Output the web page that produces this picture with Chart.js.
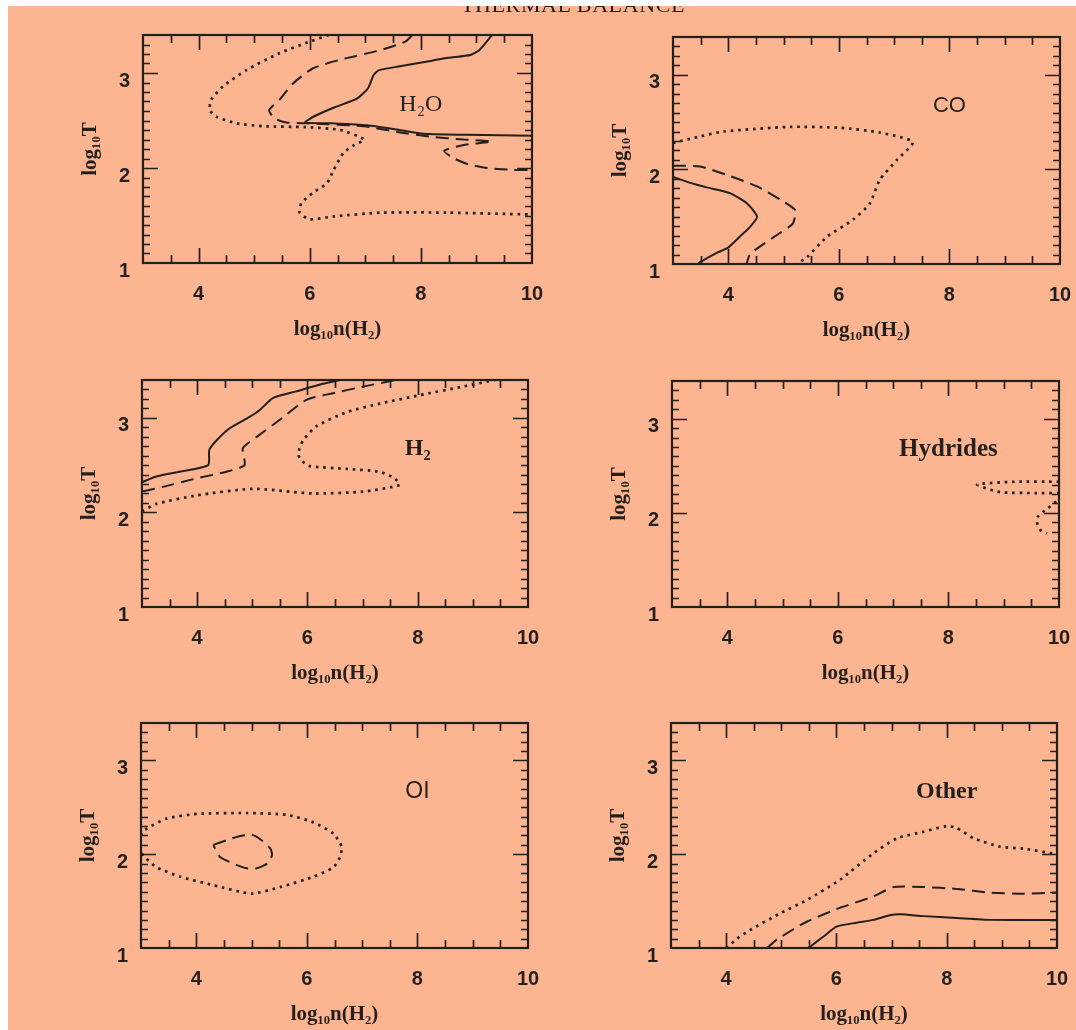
<!DOCTYPE html>
<html>
<head>
<meta charset="utf-8">
<title>Thermal balance</title>
<script src="https://cdn.jsdelivr.net/npm/chart.js@4.4.1/dist/chart.umd.min.js"></script>
<style>
    html, body { margin: 0; padding: 0; background: #ffffff; }
    #lembar { position: absolute; left: 8px; top: 6px; width: 1068px; height: 1024px; background: #fcb491; overflow: hidden; }
    #judul { position: absolute; left: 565px; top: -12px; transform: translateX(-50%); white-space: nowrap;
             font: 22px/22px "Liberation Serif", "DejaVu Serif", serif; color: #231f1c; letter-spacing: 0.6px; filter: blur(0.4px); }
    canvas.panel { position: absolute; filter: blur(0.45px); }
</style>
</head>
<body>
<div id="lembar"><div id="judul">THERMAL BALANCE</div></div>

<script>
// Label sumbu
const xTicks = [4, 6, 8, 10];
const yTicks = [1, 2, 3];

// Kontur pendinginan, titik [log10 n(H2), log10 T]
const h2oSolid  = [[9.28,3.40],[9.05,3.24],[8.89,3.19],[8.5,3.16],[8.2,3.13],[7.62,3.07],[7.25,3.03],[7.15,2.98],[7.05,2.84],[6.85,2.73],[6.45,2.64],[6.1,2.55],[5.92,2.48],[6.42,2.47],[7.03,2.45],[7.62,2.40],[8.04,2.36],[8.83,2.35],[10,2.34]];
const h2oDashed = [[7.85,3.40],[7.72,3.33],[7.27,3.24],[6.55,3.14],[6.06,3.05],[5.70,2.89],[5.46,2.72],[5.27,2.61],[5.37,2.52],[5.58,2.48],[5.94,2.47],[6.97,2.44],[7.57,2.38],[8.17,2.33],[8.77,2.30],[9.28,2.28],[8.75,2.24],[8.42,2.18],[8.6,2.10],[8.85,2.04],[9.2,2.0],[9.66,1.98],[10,1.98]];
const h2oDotted = [[6.34,3.40],[6.0,3.33],[5.46,3.21],[4.86,3.03],[4.44,2.86],[4.23,2.72],[4.20,2.61],[4.32,2.54],[4.68,2.47],[5.16,2.44],[5.94,2.43],[6.55,2.40],[6.98,2.30],[6.80,2.24],[6.61,2.16],[6.43,1.98],[6.31,1.84],[6.06,1.74],[5.85,1.63],[5.82,1.53],[6.0,1.46],[6.43,1.49],[7.27,1.53],[8.47,1.53],[10,1.51]];

const coSolid  = [[3.0,1.92],[3.3,1.86],[3.61,1.81],[4.03,1.75],[4.34,1.64],[4.52,1.50],[4.39,1.39],[4.21,1.29],[3.99,1.17],[3.80,1.12],[3.49,1.02],[3.45,1.0]];
const coDashed = [[3.0,2.04],[3.49,2.03],[4.03,1.93],[4.52,1.82],[4.94,1.68],[5.21,1.57],[5.17,1.43],[4.94,1.33],[4.61,1.20],[4.39,1.10],[4.33,1.0]];
const coDotted = [[3.0,2.28],[3.5,2.35],[3.90,2.40],[5.12,2.45],[6.02,2.44],[6.74,2.39],[7.34,2.29],[7.05,2.10],[6.74,1.89],[6.56,1.64],[6.26,1.47],[5.79,1.29],[5.42,1.07],[5.24,1.0]];

const h2Solid  = [[3,2.32],[3.26,2.38],[3.68,2.43],[4.20,2.50],[4.22,2.66],[4.35,2.76],[4.59,2.89],[4.95,3.01],[5.13,3.08],[5.38,3.21],[5.80,3.28],[6.28,3.36],[6.59,3.40]];
const h2Dashed = [[3,2.22],[3.38,2.27],[3.99,2.36],[4.53,2.43],[4.86,2.50],[4.83,2.68],[5.13,2.82],[5.50,2.98],[5.98,3.19],[6.46,3.26],[7.01,3.33],[7.6,3.40]];
const h2Dotted = [[3,2.01],[3.26,2.09],[3.99,2.18],[5.01,2.25],[6.10,2.20],[7.01,2.22],[7.67,2.29],[7.58,2.36],[7.31,2.43],[6.71,2.46],[6.04,2.49],[5.89,2.55],[5.83,2.62],[5.92,2.76],[6.16,2.91],[6.71,3.06],[7.31,3.15],[8.04,3.24],[8.82,3.33],[9.4,3.40]];

const hydDotted  = [[10,2.33],[9.2,2.33],[8.52,2.30],[8.93,2.22],[9.6,2.21],[10,2.21]];
const hydDotted2 = [[9.95,2.12],[9.78,2.04],[9.62,1.96],[9.60,1.90],[9.66,1.82],[9.78,1.78]];

const oiDotted = [[3.0,2.2],[3.07,2.26],[3.46,2.38],[4.01,2.43],[4.91,2.44],[5.64,2.42],[6.12,2.34],[6.48,2.22],[6.63,2.08],[6.60,1.97],[6.48,1.86],[6.12,1.76],[5.52,1.65],[5.0,1.58],[4.31,1.67],[3.71,1.76],[3.28,1.86],[3.07,1.97],[3.0,2.02]];
const oiDashed = [[4.31,2.10],[4.55,2.15],[4.76,2.19],[5.0,2.21],[5.18,2.15],[5.34,2.06],[5.37,1.99],[5.28,1.90],[5.09,1.85],[4.91,1.85],[4.67,1.90],[4.43,1.97],[4.34,2.06],[4.31,2.10]];

const othDotted = [[4.0,1.0],[4.2,1.1],[4.43,1.19],[4.98,1.37],[5.46,1.51],[6.07,1.73],[6.67,2.01],[7.10,2.17],[7.58,2.24],[8.0,2.30],[8.18,2.28],[8.49,2.17],[8.97,2.08],[9.39,2.06],[10,2.0]];
const othDashed = [[4.74,1.0],[4.92,1.09],[5.46,1.28],[6.07,1.43],[6.67,1.55],[7.04,1.65],[7.58,1.65],[8.18,1.63],[8.79,1.59],[9.39,1.58],[10,1.59]];
const othSolid  = [[5.49,1.0],[5.76,1.12],[6.01,1.23],[6.37,1.27],[6.67,1.30],[6.97,1.35],[7.16,1.36],[7.58,1.34],[8.18,1.32],[8.79,1.30],[10,1.30]];

const TINTA = '#231f1c';
const SERIF = '"Liberation Serif", "DejaVu Serif", serif';
const SANS = '"Liberation Sans", Arial, sans-serif';

const gayaGaris = {
    solid:  { borderDash: [], borderWidth: 2 },
    dashed: { borderDash: [13, 7], borderWidth: 2 },
    dotted: { borderDash: [2.6, 4.8], borderWidth: 2.7 }
};

// posisi kotak plot di halaman: [kiri, atas, lebar, tinggi]
const daftarPanel = [
    { box: [143, 35, 389, 228], label: 'H₂O', font: `24px ${SERIF}`,
      kurva: [[h2oSolid, 'solid'], [h2oDashed, 'dashed'], [h2oDotted, 'dotted']] },
    { box: [673, 37, 387, 227], label: 'CO', font: `22px ${SANS}`,
      kurva: [[coSolid, 'solid'], [coDashed, 'dashed'], [coDotted, 'dotted']] },
    { box: [142, 380, 386, 227], label: 'H₂', font: `bold 24px ${SERIF}`,
      kurva: [[h2Solid, 'solid'], [h2Dashed, 'dashed'], [h2Dotted, 'dotted']] },
    { box: [672, 381, 387, 226], label: 'Hydrides', font: `bold 25px ${SERIF}`,
      kurva: [[hydDotted, 'dotted'], [hydDotted2, 'dotted']] },
    { box: [141, 723, 387, 225], label: 'OI', font: `23px ${SANS}`,
      kurva: [[oiDotted, 'dotted'], [oiDashed, 'dashed']] },
    { box: [671, 723, 386, 225], label: 'Other', font: `bold 24px ${SERIF}`,
      kurva: [[othDotted, 'dotted'], [othDashed, 'dashed'], [othSolid, 'solid']] }
];

const SUMBU_Y = 80, SUMBU_X = 80, PAD_ATAS = 10, PAD_KANAN = 22;

// Bingkai kotak dengan tick ke arah dalam di keempat sisi
const bingkai = {
    id: 'bingkai',
    afterDatasetsDraw(chart) {
        const { ctx, chartArea: a, scales: { x, y } } = chart;
        ctx.save();
        ctx.strokeStyle = TINTA;
        ctx.lineWidth = 2.2;
        ctx.strokeRect(a.left, a.top, a.right - a.left, a.bottom - a.top);
        ctx.lineWidth = 1.7;
        ctx.beginPath();
        for (let i = 7; i < 20; i++) {
            const px = Math.round(x.getPixelForValue(i / 2)) + 0.5;
            const len = i % 4 === 0 ? 15 : 8;
            ctx.moveTo(px, a.bottom); ctx.lineTo(px, a.bottom - len);
            ctx.moveTo(px, a.top); ctx.lineTo(px, a.top + len);
        }
        for (let i = 11; i < 34; i++) {
            const py = Math.round(y.getPixelForValue(i / 10)) + 0.5;
            const len = i % 10 === 0 ? 15 : 7;
            ctx.moveTo(a.left, py); ctx.lineTo(a.left + len, py);
            ctx.moveTo(a.right, py); ctx.lineTo(a.right - len, py);
        }
        ctx.stroke();
        ctx.restore();
    }
};

// Nama pendingin di pojok kanan atas tiap panel
const labelPanel = {
    id: 'labelPanel',
    afterDraw(chart, args, opts) {
        const { ctx, scales: { x, y } } = chart;
        ctx.save();
        ctx.fillStyle = TINTA;
        ctx.font = opts.font;
        ctx.textAlign = 'center';
        ctx.textBaseline = 'middle';
        ctx.fillText(opts.text, x.getPixelForValue(8), y.getPixelForValue(2.67));
        ctx.restore();
    }
};

// ukuran sumbu dibuat tetap supaya kotak plot tidak bergeser
const kunciUkuran = (s, tebal) => {
    if (s.isHorizontal()) s.height = tebal; else s.width = tebal;
    s.paddingTop = s.paddingBottom = s.paddingLeft = s.paddingRight = 0;
};

daftarPanel.forEach(p => {
    const [L, T, W, H] = p.box;
    const canvas = document.createElement('canvas');
    canvas.className = 'panel';
    canvas.width = W + SUMBU_Y + PAD_KANAN;
    canvas.height = H + SUMBU_X + PAD_ATAS;
    canvas.style.left = (L - SUMBU_Y) + 'px';
    canvas.style.top = (T - PAD_ATAS) + 'px';
    document.body.appendChild(canvas);

    const datasets = p.kurva.map(([titik, gaya]) => ({
        data: titik.map(([x, y]) => ({ x, y })),
        showLine: true,
        pointRadius: 0,
        borderColor: TINTA,
        backgroundColor: TINTA,
        tension: 0.2,
        fill: false,
        ...gayaGaris[gaya]
    }));

    new Chart(canvas, {
        type: 'scatter',
        data: { datasets },
        options: {
            responsive: false,
            animation: false,
            devicePixelRatio: 1,
            layout: { padding: { top: PAD_ATAS, right: PAD_KANAN, left: 0, bottom: 0 } },
            plugins: {
                legend: { display: false },
                tooltip: { enabled: false },
                labelPanel: { text: p.label, font: p.font }
            },
            scales: {
                x: {
                    type: 'linear', min: 3, max: 10,
                    grid: { display: false, drawTicks: false },
                    border: { display: false },
                    afterBuildTicks: s => { s.ticks = xTicks.map(v => ({ value: v })); },
                    afterFit: s => kunciUkuran(s, SUMBU_X),
                    ticks: { padding: 19, color: TINTA, autoSkip: false, maxRotation: 0,
                             font: { family: SANS, size: 20, weight: 'bold' } },
                    title: { display: true, text: 'log₁₀n(H₂)', color: TINTA,
                             font: { family: SERIF, size: 21, weight: 'bold' }, padding: { top: 0, bottom: 1 } }
                },
                y: {
                    type: 'linear', min: 1, max: 3.4,
                    grid: { display: false, drawTicks: false },
                    border: { display: false },
                    afterBuildTicks: s => { s.ticks = yTicks.map(v => ({ value: v })); },
                    afterFit: s => kunciUkuran(s, SUMBU_Y),
                    ticks: { padding: 13, labelOffset: 8, color: TINTA, autoSkip: false,
                             font: { family: SANS, size: 20, weight: 'bold' } },
                    title: { display: true, text: 'log₁₀T', color: TINTA,
                             font: { family: SERIF, size: 21, weight: 'bold' }, padding: { top: 15, bottom: 0 } }
                }
            }
        },
        plugins: [bingkai, labelPanel]
    });
});
</script>
</body>
</html>
